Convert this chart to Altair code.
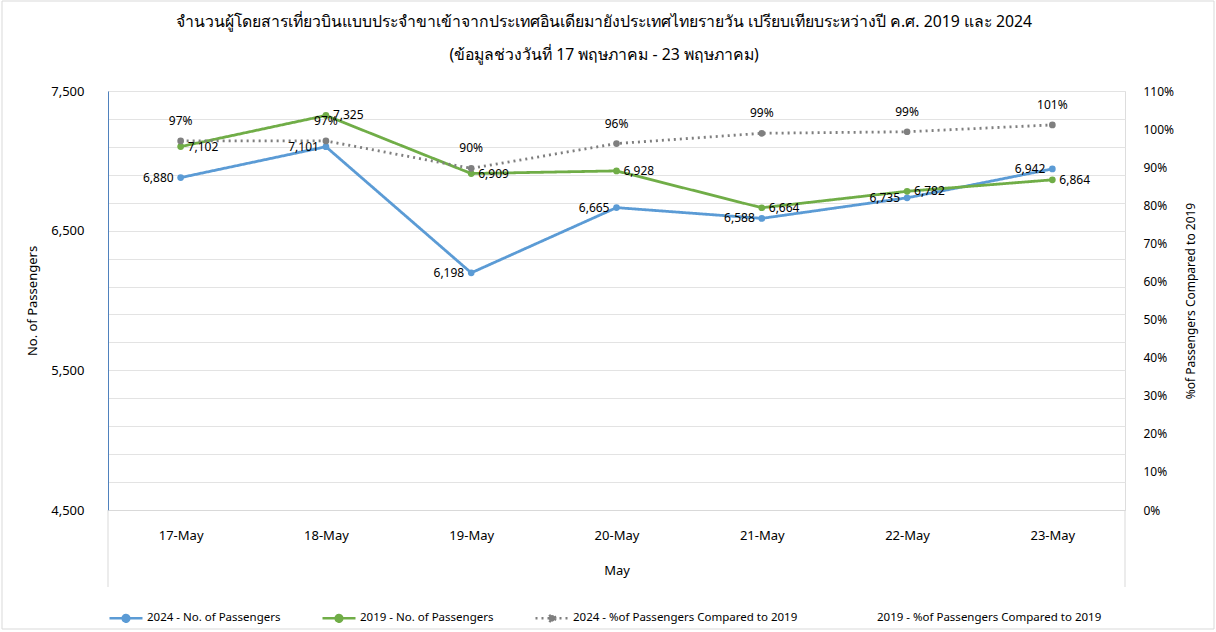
import altair as alt
import pandas as pd

days = ["17-May", "18-May", "19-May", "20-May", "21-May", "22-May", "23-May"]
pax_2024 = [6880, 7101, 6198, 6665, 6588, 6735, 6942]
pax_2019 = [7102, 7325, 6909, 6928, 6664, 6782, 6864]
pct_2024 = [0.969, 0.969, 0.897, 0.962, 0.989, 0.993, 1.011]

series = [
    "2024 - No. of Passengers",
    "2019 - No. of Passengers",
    "2024 - %of Passengers Compared to 2019",
    "2019 - %of Passengers Compared to 2019",
]
colors = ["#5b9bd5", "#70ad47", "#7f7f7f", "transparent"]
dashes = [[1, 0], [1, 0], [2, 4], [1, 0]]

left_ticks = list(range(4500, 7501, 200))
right_ticks = [i / 10 for i in range(12)]

title_1 = "จำนวนผู้โดยสารเที่ยวบินแบบประจำขาเข้าจากประเทศอินเดียมายังประเทศไทยรายวัน เปรียบเทียบระหว่างปี ค.ศ. 2019 และ 2024"
title_2 = "(ข้อมูลช่วงวันที่ 17 พฤษภาคม - 23 พฤษภาคม)"

FONT = "Tahoma, 'Noto Sans', 'DejaVu Sans', sans-serif"
W, H = 1017, 419

df_pax = pd.concat([
    pd.DataFrame({"day": days, "value": pax_2024, "series": series[0]}),
    pd.DataFrame({"day": days, "value": pax_2019, "series": series[1]}),
])
df_pct = pd.DataFrame({"day": days, "value": pct_2024, "series": series[2]})

xenc = alt.X(
    "day:N", sort=days,
    scale=alt.Scale(type="point", padding=0.5),
    axis=alt.Axis(title="May", labelAngle=0, ticks=False, domainColor="#d9d9d9",
                  labelPadding=19, titlePadding=22, labelFontSize=13, titleFontSize=13,
                  labelColor="#000000", titleColor="#000000", titleFontWeight="normal"),
)

legend = alt.Legend(
    title=None, orient="none", legendX=0, legendY=509, direction="horizontal",
    columns=4, columnPadding=36, labelFontSize=11.5, labelColor="#000000", labelLimit=0,
    symbolType="M-1,0L1,0M0.2,0A0.2,0.2,0,1,1,-0.2,0A0.2,0.2,0,1,1,0.2,0Z",
    symbolSize=1089, symbolStrokeWidth=2.5, labelOffset=3,
)
color = alt.Color("series:N", scale=alt.Scale(domain=series, range=colors), legend=legend)
dash = alt.StrokeDash("series:N", scale=alt.Scale(domain=series, range=dashes), legend=legend)

left_axis = alt.Axis(
    values=left_ticks, labelOverlap=False,
    labelExpr="(datum.value - 4500) % 1000 == 0 ? format(datum.value, ',') : ''",
    grid=True, gridColor="#e3e3e3", ticks=False, domainColor="#4f81bd",
    labelPadding=24, labelFontSize=13, labelColor="#000000",
    title="No. of Passengers", titleX=-76, titleY=H / 2, titleAngle=-90,
    titleBaseline="middle", titleFontSize=13, titleFontWeight="normal", titleColor="#000000",
)
yleft = alt.Y("value:Q", scale=alt.Scale(domain=[4500, 7500], nice=False, zero=False), axis=left_axis)

base_pax = alt.Chart(df_pax)
pax_lines = base_pax.mark_line(strokeWidth=2.8).encode(x=xenc, y=yleft, color=color, strokeDash=dash)
pax_points = base_pax.mark_point(filled=True, size=45, opacity=1).encode(x=xenc, y=yleft, color=color)
lbl_2024 = alt.Chart(df_pax[df_pax.series == series[0]]).mark_text(
    align="right", dx=-7, fontSize=12, font=FONT, color="#000000"
).encode(x=xenc, y=yleft, text=alt.Text("value:Q", format=","))
lbl_2019 = alt.Chart(df_pax[df_pax.series == series[1]]).mark_text(
    align="left", dx=7, fontSize=12, font=FONT, color="#000000"
).encode(x=xenc, y=yleft, text=alt.Text("value:Q", format=","))

one = alt.Data(values=[{}])
deco = alt.layer(
    alt.Chart(one).mark_rule(color="#d9d9d9").encode(x=alt.value(0), y=alt.value(H), y2=alt.value(H + 77)),
    alt.Chart(one).mark_rule(color="#d9d9d9").encode(x=alt.value(W), y=alt.value(H), y2=alt.value(H + 77)),
    alt.Chart(one).mark_rect(fill="transparent", stroke="#d9d9d9").encode(
        x=alt.value(-106), x2=alt.value(W + 89), y=alt.value(-90), y2=alt.value(H + 119)),
    alt.Chart(one).mark_text(text=title_1, fontSize=15.8, fontWeight="normal", font=FONT, color="#000000").encode(
        x=alt.value(496), y=alt.value(-69)),
    alt.Chart(one).mark_text(text=title_2, fontSize=15.8, fontWeight="normal", font=FONT, color="#000000").encode(
        x=alt.value(496), y=alt.value(-36)),
)

left = alt.layer(pax_lines, pax_points, lbl_2024, lbl_2019)

right_axis = alt.Axis(
    orient="right", values=right_ticks, format=".0%", labelOverlap=False,
    grid=False, ticks=False, domain=False, labelPadding=18, labelFontSize=12,
    labelColor="#000000",
    title="%of Passengers Compared to 2019", titleX=65, titleY=H / 2, titleAngle=-90,
    titleBaseline="middle", titleFontSize=12, titleFontWeight="normal", titleColor="#000000",
)
yright = alt.Y("value:Q", scale=alt.Scale(domain=[0, 1.1], nice=False), axis=right_axis)
base_pct = alt.Chart(df_pct)
pct_line = base_pct.mark_line(strokeWidth=2.8).encode(x=xenc, y=yright, color=color, strokeDash=dash)
pct_points = base_pct.mark_point(filled=True, size=45, opacity=1).encode(x=xenc, y=yright, color=color)
pct_lbl = base_pct.mark_text(dy=-20, fontSize=12, font=FONT, color="#000000").encode(
    x=xenc, y=yright, text=alt.Text("value:Q", format=".0%"))
right = alt.layer(pct_line, pct_points, pct_lbl)

chart = alt.layer(deco, left, right).resolve_scale(y="independent").properties(
    width=W, height=H,
    autosize=alt.AutoSizeParams(type="none"),
    padding={"left": 108, "top": 91, "right": 91, "bottom": 122},
    background="white",
).configure_view(stroke=None).configure(font=FONT)

chart.save("out.html", embed_options={"renderer": "svg", "actions": False})
